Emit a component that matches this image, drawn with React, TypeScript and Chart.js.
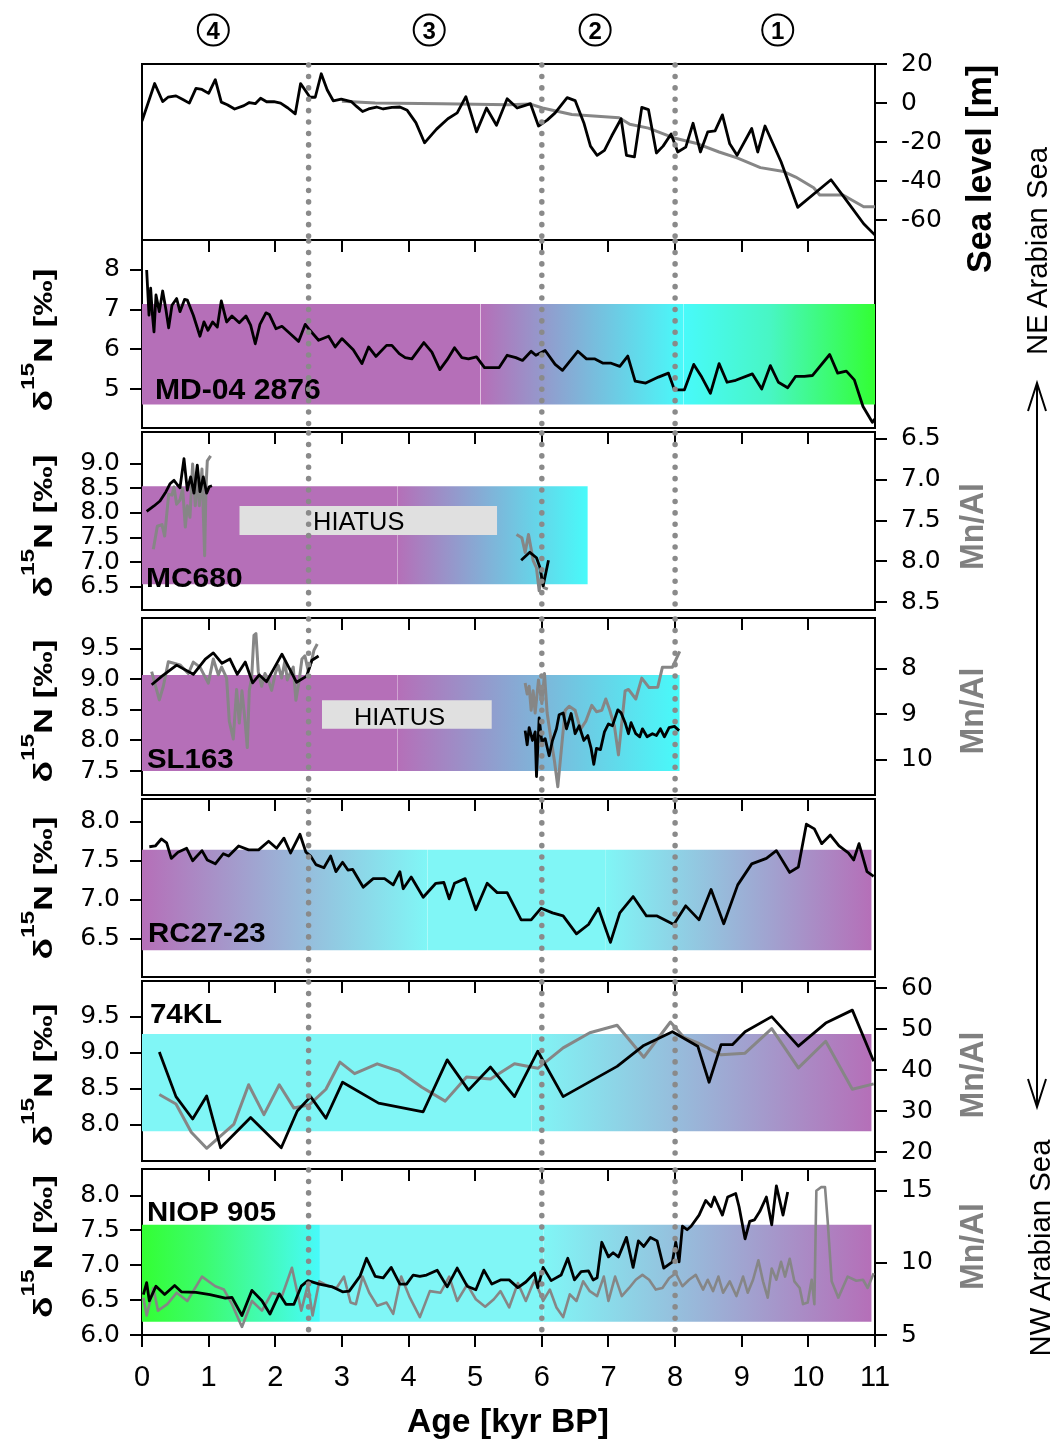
import React, { useEffect, useRef } from 'react';
import { Chart, registerables } from 'chart.js';

Chart.register(...registerables);

type Pt = [number, number | null];

// ================= DATA =================
const AGE_TICKS = [0, 1, 2, 3, 4, 5, 6, 7, 8, 9, 10, 11];
const STAGE_BOUNDARIES = [2.5, 6, 8];
const STAGE_LABELS = ['4', '3', '2', '1'];
const STAGE_CENTERS = [1.07, 4.31, 6.8, 9.54];

const SEA_LEVEL_TICKS = [20, 0, -20, -40, -60];
const SEA_LEVEL_BLACK: Pt[] = [
  [0, -9.2], [0.19, 10], [0.31, 0.8], [0.39, 3], [0.51, 3.7], [0.62, 1.7], [0.71, 0], [0.81, 7.5], [0.9, 7], [1.0, 5],
  [1.1, 12], [1.19, 0.5], [1.28, -0.8], [1.39, -3], [1.53, -1.3], [1.61, 0.3], [1.7, -0.3], [1.78, 2.5], [1.87, 0.7],
  [1.98, 0.8], [2.08, 0], [2.19, -2.5], [2.3, -5.5], [2.38, 10], [2.52, 3], [2.6, 3], [2.69, 15], [2.78, 6.7], [2.87, 1.2],
  [2.99, 2], [3.14, 0.8], [3.22, -1.7], [3.31, -4.3], [3.4, -3], [3.52, -2], [3.62, -3], [3.75, -2.2], [3.87, -2],
  [3.98, -3.7], [4.11, -10], [4.24, -20.3], [4.42, -13.3], [4.59, -8], [4.73, -5], [4.86, 3.3], [5.02, -14.7],
  [5.17, -2.5], [5.32, -11.3], [5.48, 2.2], [5.63, -2.5], [5.74, -1.3], [5.83, -0.3], [5.95, -11.7], [6.08, -8.7],
  [6.2, -5], [6.38, 2.8], [6.5, 1.3], [6.63, -10], [6.73, -22], [6.83, -26.7], [6.94, -24.2], [7.05, -16.7], [7.19, -8],
  [7.27, -26.7], [7.39, -27.5], [7.5, -2.2], [7.6, -3.3], [7.72, -25.5], [7.82, -22], [7.94, -15.8], [8.04, -25],
  [8.16, -22.5], [8.27, -10.3], [8.38, -25], [8.49, -14.7], [8.6, -14.2], [8.71, -6], [8.82, -20.8], [8.93, -26.7],
  [9.15, -13], [9.24, -25], [9.35, -11.7], [9.59, -30], [9.84, -53.3], [10.34, -39.2], [10.56, -49.2], [10.83, -61.7],
  [11.0, -67.5],
];
const SEA_LEVEL_GRAY: Pt[] = [
  [3.0, 1], [3.5, 0], [4.5, -0.3], [5.5, -0.8], [5.83, -0.5], [6.01, -2.5], [6.45, -5.8], [7.16, -7.5], [7.32, -10.8],
  [7.6, -12.8], [8.0, -18], [8.31, -20.5], [8.66, -25], [8.93, -28], [9.28, -33], [9.63, -35], [9.81, -37.8],
  [10.08, -43.3], [10.17, -47], [10.52, -47], [10.83, -53], [11, -53],
];

const MD04_TICKS = [5, 6, 7, 8];
const MD04_D15N: Pt[] = [
  [0.07, 8.0], [0.105, 6.86], [0.13, 7.54], [0.155, 6.9], [0.18, 6.44], [0.21, 7.37], [0.26, 6.95], [0.31, 7.47],
  [0.36, 6.99], [0.4, 6.54], [0.45, 7.11], [0.52, 7.28], [0.57, 6.95], [0.64, 7.26], [0.68, 7.24], [0.77, 6.86],
  [0.87, 6.33], [0.93, 6.69], [0.99, 6.48], [1.06, 6.69], [1.13, 6.56], [1.19, 7.22], [1.27, 6.69], [1.35, 6.84],
  [1.46, 6.67], [1.56, 6.84], [1.63, 6.61], [1.7, 6.14], [1.77, 6.63], [1.86, 6.92], [1.91, 6.88], [2.01, 6.52],
  [2.1, 6.58], [2.22, 6.4], [2.35, 6.2], [2.45, 6.63], [2.52, 6.48], [2.65, 6.23], [2.8, 6.33], [2.9, 6.06], [3.0, 6.27],
  [3.17, 5.99], [3.3, 5.64], [3.4, 6.06], [3.51, 5.82], [3.67, 6.1], [3.75, 6.1], [3.86, 5.89], [3.95, 5.79], [4.05, 5.76],
  [4.23, 6.17], [4.35, 5.93], [4.47, 5.49], [4.58, 5.74], [4.69, 6.04], [4.8, 5.79], [4.9, 5.76], [5.02, 5.81],
  [5.14, 5.54], [5.36, 5.54], [5.48, 5.85], [5.61, 5.79], [5.71, 5.72], [5.84, 5.95], [5.91, 5.85], [6.05, 5.97],
  [6.2, 5.62], [6.31, 5.47], [6.54, 5.95], [6.67, 5.76], [6.79, 5.76], [6.92, 5.65], [7.04, 5.65], [7.17, 5.57],
  [7.29, 5.83], [7.4, 5.2], [7.56, 5.15], [7.75, 5.3], [7.9, 5.4], [7.99, 4.98], [8.14, 4.98], [8.28, 5.62], [8.4, 5.3],
  [8.53, 4.89], [8.66, 5.64], [8.78, 5.17], [8.91, 5.22], [9.16, 5.38], [9.3, 5.0], [9.43, 5.59], [9.55, 5.17],
  [9.69, 5.03], [9.81, 5.32], [9.94, 5.32], [10.06, 5.34], [10.32, 5.87], [10.44, 5.4], [10.57, 5.45], [10.69, 5.23],
  [10.82, 4.56], [10.96, 4.16], [11.0, 4.25],
];

const MC680_TICKS = [6.5, 7, 7.5, 8, 8.5, 9];
const MC680_MNAL_TICKS = [6.5, 7, 7.5, 8, 8.5];
const MC680_D15N: Pt[] = [
  [0.07, 8.03], [0.18, 8.14], [0.27, 8.24], [0.36, 8.43], [0.42, 8.59], [0.48, 8.66], [0.53, 8.57], [0.57, 8.51],
  [0.63, 9.1], [0.68, 8.46], [0.73, 8.73], [0.78, 8.4], [0.83, 8.97], [0.87, 8.43], [0.92, 8.73], [0.97, 8.4],
  [1.01, 8.53], [1.05, 8.55], [3.5, null],
  [5.69, 7.04], [5.82, 7.2], [5.92, 7.09], [5.97, 6.9], [6.02, 6.52], [6.1, 7.04],
];
const MC680_MNAL: Pt[] = [
  [0.17, 7.85], [0.23, 7.57], [0.3, 7.55], [0.34, 7.69], [0.4, 7.18], [0.45, 7.19], [0.48, 7.09], [0.52, 7.3],
  [0.57, 7.25], [0.61, 7.11], [0.65, 7.58], [0.68, 7.32], [0.72, 7.46], [0.76, 6.81], [0.8, 7.32], [0.83, 6.9],
  [0.86, 7.32], [0.9, 6.87], [0.94, 7.93], [0.96, 7.11], [0.98, 6.77], [1.03, 6.71], [3.5, null],
  [5.62, 7.67], [5.7, 7.71], [5.75, 7.89], [5.8, 7.67], [5.84, 7.85], [5.87, 7.99], [5.92, 8.08], [5.96, 8.36],
  [6.0, 8.16], [6.03, 8.32], [6.09, 8.34],
];

const SL163_TICKS = [7.5, 8, 8.5, 9, 9.5];
const SL163_MNAL_TICKS = [8, 9, 10];
const SL163_D15N: Pt[] = [
  [0.145, 8.91], [0.3, 9.05], [0.52, 9.23], [0.77, 9.08], [0.95, 9.33], [1.07, 9.43], [1.2, 9.26], [1.32, 9.33],
  [1.43, 9.08], [1.55, 9.28], [1.66, 8.94], [1.76, 9.07], [1.87, 8.96], [2.1, 9.41], [2.32, 8.95], [2.47, 9.05],
  [2.55, 9.31], [2.65, 9.38], [4.0, null],
  [5.75, 8.16], [5.78, 7.93], [5.81, 8.21], [5.86, 8.0], [5.9, 8.14], [5.92, 7.41], [5.96, 8.37], [6.0, 7.98],
  [6.05, 8.03], [6.11, 7.75], [6.16, 8.0], [6.22, 8.19], [6.26, 8.42], [6.32, 8.45], [6.37, 8.19], [6.44, 8.44],
  [6.5, 8.11], [6.56, 8.24], [6.63, 8.0], [6.69, 8.08], [6.74, 7.87], [6.78, 7.61], [6.82, 7.87], [6.88, 7.85],
  [6.94, 8.14], [7.0, 8.27], [7.06, 8.24], [7.14, 8.5], [7.19, 8.45], [7.25, 8.29], [7.3, 8.11], [7.34, 8.29],
  [7.41, 8.11], [7.47, 8.06], [7.51, 8.19], [7.58, 8.06], [7.66, 8.11], [7.72, 8.08], [7.78, 8.19], [7.84, 8.06],
  [7.91, 8.21], [7.99, 8.23], [8.06, 8.16],
];
const SL163_MNAL: Pt[] = [
  [0.145, 8.06], [0.26, 8.68], [0.32, 8.38], [0.395, 7.84], [0.57, 7.91], [0.695, 8.1], [0.77, 7.85], [0.87, 7.96],
  [0.995, 8.31], [1.07, 7.78], [1.145, 8.13], [1.195, 7.96], [1.27, 8.2], [1.31, 9.15], [1.37, 9.54], [1.42, 8.45],
  [1.46, 9.19], [1.5, 8.48], [1.545, 9.12], [1.58, 9.73], [1.61, 8.48], [1.645, 8.2], [1.68, 7.26], [1.71, 7.22],
  [1.745, 8.06], [1.795, 8.38], [1.845, 8.1], [1.895, 8.24], [1.945, 8.47], [2.0, 8.1], [2.045, 7.92], [2.095, 8.2],
  [2.145, 7.82], [2.18, 8.24], [2.22, 8.1], [2.27, 7.96], [2.31, 8.69], [2.36, 8.24], [2.4, 7.78], [2.445, 7.71],
  [2.495, 8.05], [2.545, 7.82], [2.58, 7.59], [2.63, 7.45], [4.0, null],
  [5.75, 8.31], [5.78, 8.55], [5.81, 8.38], [5.84, 8.91], [5.87, 8.48], [5.9, 8.97], [5.95, 8.24], [6.0, 8.76],
  [6.04, 8.1], [6.08, 8.97], [6.14, 9.57], [6.19, 10.03], [6.24, 10.59], [6.29, 9.82], [6.35, 8.91], [6.41, 8.82],
  [6.5, 8.91], [6.58, 9.33], [6.66, 9.15], [6.75, 8.8], [6.82, 8.94], [6.9, 8.91], [6.96, 8.66], [7.02, 8.91],
  [7.09, 9.26], [7.15, 9.89], [7.25, 8.48], [7.3, 8.45], [7.41, 8.66], [7.5, 8.2], [7.61, 8.41], [7.74, 8.4],
  [7.81, 7.96], [7.96, 7.96], [8.07, 7.61],
];

const RC27_TICKS = [6.5, 7, 7.5, 8];
const RC27_D15N: Pt[] = [
  [0.11, 7.68], [0.2, 7.69], [0.29, 7.78], [0.37, 7.73], [0.44, 7.53], [0.54, 7.61], [0.67, 7.66], [0.76, 7.5],
  [0.9, 7.63], [0.98, 7.51], [1.1, 7.46], [1.22, 7.59], [1.3, 7.56], [1.45, 7.69], [1.6, 7.64], [1.75, 7.64],
  [1.9, 7.75], [2.02, 7.66], [2.13, 7.79], [2.23, 7.6], [2.37, 7.84], [2.46, 7.61], [2.53, 7.56], [2.61, 7.45],
  [2.73, 7.41], [2.83, 7.56], [2.91, 7.36], [3.01, 7.48], [3.09, 7.38], [3.16, 7.39], [3.32, 7.16], [3.47, 7.27],
  [3.64, 7.27], [3.77, 7.19], [3.87, 7.36], [3.92, 7.14], [4.04, 7.29], [4.22, 7.03], [4.41, 7.21], [4.53, 7.22],
  [4.61, 7.01], [4.69, 7.21], [4.85, 7.27], [5.01, 6.87], [5.18, 7.21], [5.33, 7.09], [5.48, 7.09], [5.69, 6.74],
  [5.84, 6.74], [5.99, 6.89], [6.16, 6.83], [6.32, 6.79], [6.52, 6.56], [6.7, 6.68], [6.85, 6.89], [7.03, 6.45],
  [7.17, 6.83], [7.37, 7.04], [7.57, 6.79], [7.73, 6.79], [7.98, 6.68], [8.16, 6.92], [8.36, 6.74], [8.54, 7.13],
  [8.73, 6.69], [8.94, 7.19], [9.15, 7.46], [9.37, 7.53], [9.52, 7.63], [9.72, 7.35], [9.85, 7.42], [9.97, 7.97],
  [10.09, 7.91], [10.2, 7.72], [10.33, 7.83], [10.46, 7.69], [10.6, 7.6], [10.68, 7.51], [10.76, 7.72], [10.88, 7.36],
  [10.98, 7.3],
];

const KL74_TICKS = [8, 8.5, 9, 9.5];
const KL74_MNAL_TICKS = [20, 30, 40, 50, 60];
const KL74_D15N: Pt[] = [
  [0.26, 9.01], [0.51, 8.39], [0.76, 8.08], [0.97, 8.4], [1.18, 7.68], [1.63, 8.1], [2.09, 7.68], [2.33, 8.19],
  [2.53, 8.39], [2.76, 8.09], [3.01, 8.59], [3.55, 8.3], [4.22, 8.18], [4.58, 8.9], [4.9, 8.48], [5.23, 8.8],
  [5.59, 8.39], [5.94, 9.02], [6.32, 8.39], [7.13, 8.81], [7.53, 9.1], [7.96, 9.29], [8.34, 9.09], [8.51, 8.59],
  [8.69, 9.11], [8.86, 9.11], [9.05, 9.29], [9.45, 9.5], [9.85, 9.09], [10.26, 9.41], [10.66, 9.59], [10.98, 8.88],
];
const KL74_MNAL: Pt[] = [
  [0.26, 34.1], [0.51, 31.8], [0.74, 24.9], [0.97, 21.0], [1.38, 26.9], [1.6, 36.5], [1.83, 29.2], [2.06, 36.5],
  [2.28, 30.8], [2.51, 31.6], [2.76, 35.4], [2.97, 42.0], [3.19, 39.2], [3.53, 41.6], [3.86, 39.8], [4.2, 35.9],
  [4.55, 32.5], [4.87, 38.4], [5.23, 37.9], [5.59, 41.6], [5.94, 40.5], [6.32, 45.5], [6.72, 49.2], [7.13, 51.0],
  [7.53, 43.2], [7.93, 51.8], [8.13, 48.1], [8.34, 46.7], [8.69, 43.8], [9.05, 44.2], [9.45, 50.2], [9.85, 40.6],
  [10.26, 47.1], [10.66, 35.4], [10.98, 36.7],
];

const NIOP_TICKS = [6, 6.5, 7, 7.5, 8];
const NIOP_MNAL_TICKS = [5, 10, 15];
const NIOP_D15N: Pt[] = [
  [0.02, 6.58], [0.07, 6.75], [0.11, 6.49], [0.21, 6.7], [0.34, 6.58], [0.49, 6.71], [0.59, 6.62], [0.81, 6.61],
  [1.02, 6.58], [1.25, 6.53], [1.35, 6.54], [1.5, 6.28], [1.65, 6.64], [1.8, 6.49], [1.92, 6.3], [2.06, 6.59],
  [2.16, 6.44], [2.28, 6.44], [2.39, 6.7], [2.49, 6.78], [2.66, 6.73], [2.86, 6.69], [3.01, 6.62], [3.11, 6.63],
  [3.27, 6.84], [3.37, 7.1], [3.5, 6.84], [3.62, 6.82], [3.74, 6.97], [3.87, 6.73], [3.97, 6.73], [4.07, 6.86],
  [4.17, 6.84], [4.27, 6.86], [4.43, 6.93], [4.58, 6.69], [4.73, 6.96], [4.88, 6.7], [5.01, 6.65], [5.13, 6.93],
  [5.25, 6.73], [5.38, 6.79], [5.51, 6.79], [5.64, 6.68], [5.76, 6.76], [5.89, 6.89], [5.94, 6.68], [6.02, 6.97],
  [6.14, 6.78], [6.29, 6.86], [6.39, 7.1], [6.49, 6.79], [6.59, 6.91], [6.7, 6.92], [6.77, 6.79], [6.83, 6.82],
  [6.9, 7.33], [7.0, 7.12], [7.07, 7.18], [7.15, 7.12], [7.27, 7.4], [7.37, 6.97], [7.45, 7.35], [7.53, 7.27],
  [7.63, 7.4], [7.73, 7.35], [7.83, 6.96], [7.96, 7.05], [8.01, 7.33], [8.06, 7.05], [8.11, 7.56], [8.18, 7.51],
  [8.24, 7.56], [8.36, 7.72], [8.46, 7.93], [8.54, 7.84], [8.59, 7.98], [8.71, 7.72], [8.79, 7.98], [8.91, 8.03],
  [8.96, 7.84], [9.05, 7.38], [9.12, 7.63], [9.19, 7.65], [9.27, 7.77], [9.37, 7.98], [9.45, 7.58], [9.52, 8.14],
  [9.62, 7.72], [9.69, 8.05],
];
const NIOP_MNAL: Pt[] = [
  [0.02, 7.59], [0.07, 6.35], [0.17, 8.26], [0.24, 6.69], [0.38, 7.14], [0.52, 7.93], [0.68, 7.36], [0.9, 9.05],
  [1.1, 8.38], [1.23, 8.15], [1.35, 7.14], [1.5, 5.56], [1.65, 7.36], [1.8, 6.69], [1.95, 7.93], [2.1, 7.7],
  [2.25, 9.66], [2.39, 6.69], [2.49, 8.49], [2.56, 6.35], [2.66, 8.72], [2.8, 8.38], [2.92, 8.26], [3.03, 9.05],
  [3.13, 7.25], [3.21, 7.14], [3.31, 9.05], [3.41, 7.93], [3.53, 7.03], [3.67, 7.25], [3.77, 6.47], [3.89, 9.05],
  [4.02, 7.59], [4.17, 6.24], [4.32, 8.04], [4.48, 7.93], [4.61, 9.05], [4.73, 7.36], [4.88, 8.49], [5.01, 7.48],
  [5.15, 6.96], [5.28, 7.48], [5.38, 8.04], [5.51, 6.91], [5.64, 8.6], [5.76, 7.36], [5.89, 8.83], [6.02, 7.36],
  [6.12, 8.15], [6.22, 6.91], [6.32, 6.24], [6.42, 7.82], [6.52, 7.36], [6.62, 8.72], [6.72, 8.04], [6.83, 7.7],
  [6.93, 9.05], [7.0, 7.36], [7.1, 9.05], [7.2, 7.7], [7.31, 8.26], [7.41, 8.83], [7.51, 9.17], [7.61, 8.83],
  [7.71, 8.15], [7.81, 8.26], [7.91, 8.94], [8.01, 9.28], [8.11, 8.38], [8.21, 8.83], [8.31, 9.17], [8.42, 8.15],
  [8.49, 8.83], [8.57, 8.04], [8.65, 9.05], [8.72, 7.93], [8.82, 8.72], [8.92, 7.7], [9.02, 9.05], [9.09, 7.93],
  [9.17, 8.83], [9.25, 10.18], [9.32, 8.72], [9.39, 7.59], [9.45, 9.61], [9.52, 8.83], [9.59, 10.07], [9.65, 9.05],
  [9.72, 10.29], [9.79, 8.72], [9.87, 8.26], [9.92, 7.14], [9.99, 7.25], [10.05, 8.83], [10.09, 7.14], [10.12, 15.0],
  [10.19, 15.25], [10.25, 15.25], [10.29, 12.9], [10.35, 8.72], [10.45, 7.59], [10.59, 9.05], [10.72, 8.76],
  [10.82, 8.83], [10.89, 8.26], [10.98, 9.28],
];

// ================= STYLE / LAYOUT =================
const PAGE_W = 1054;
const PAGE_H = 1439;
const AREA_L = 142;
const AREA_R = 875;
const X_MIN = 0;
const X_MAX = 11;
const FONT = '"Liberation Sans", Arial, Helvetica, sans-serif';
const TICK_FONT = '"DejaVu Sans", "Liberation Sans", sans-serif';
const BLACK = '#000000';
const GRAY = '#868686';
const LW_BLACK = 2.8;
const LW_GRAY = 3;

const MAG = 'rgb(181,111,184)';
const CYA = 'rgb(72,250,250)';
const CYL = 'rgb(128,246,246)';
const GRN = 'rgb(51,255,51)';
const MINT = 'rgb(72,246,196)';

const xPix = (v: number) => AREA_L + ((v - X_MIN) / (X_MAX - X_MIN)) * (AREA_R - AREA_L);

interface AxisSpec { min: number; max: number; ticks: number[]; dec: number; reverse?: boolean }
interface Seg { x0: number; x1: number; stops: [number, string][] }
interface Series { pts: Pt[]; axis: 'y' | 'y2'; color: string; width: number; order: number }
interface TextFit { text: string; left: number; baseline: number; inkW: number; size: number; bold: boolean }
interface RotTitle { kind: 'd15n' | 'plain'; text?: string; size: number; baseX: number; cy: number; len: number; color: string }
interface PanelCfg {
  top: number; bottom: number; padTop: number; padBottom: number; xAxisH: number;
  left: AxisSpec | null; right: AxisSpec | null;
  band?: { yTop: number; yBot: number; segs: Seg[] };
  hiatus?: { x0: number; x1: number; yTop: number; yBot: number };
  texts: TextFit[];
  series: Series[];
  titles: RotTitle[];
  topTicks: boolean; bottomLabels: boolean;
}

const solid = (c: string): [number, string][] => [[0, c], [1, c]];
const fade = (a: string, b: string): [number, string][] => [[0, a], [1, b]];

const PANELS: PanelCfg[] = [
  {
    top: 60, bottom: 240, padTop: 25, padBottom: 45, xAxisH: 0,
    left: null, right: { min: -70, max: 20, ticks: SEA_LEVEL_TICKS, dec: 0 },
    series: [
      { pts: SEA_LEVEL_GRAY, axis: 'y2', color: GRAY, width: LW_GRAY, order: 2 },
      { pts: SEA_LEVEL_BLACK, axis: 'y2', color: BLACK, width: LW_BLACK, order: 1 },
    ],
    texts: [],
    titles: [{ kind: 'plain', text: 'Sea level [m]', size: 35, baseX: 991, cy: 169, len: 208, color: '#000' }],
    topTicks: false, bottomLabels: false,
  },
  {
    top: 240, bottom: 428, padTop: 25, padBottom: 25, xAxisH: 0,
    left: { min: 4.017, max: 8.756, ticks: MD04_TICKS, dec: 0 }, right: null,
    band: {
      yTop: 7.14, yBot: 4.61,
      segs: [
        { x0: 0, x1: 5.08, stops: solid(MAG) },
        { x0: 5.08, x1: 8.13, stops: fade(MAG, CYA) },
        { x0: 8.13, x1: 11, stops: [[0, CYA], [0.45, MINT], [1, GRN]] },
      ],
    },
    series: [{ pts: MD04_D15N, axis: 'y', color: BLACK, width: LW_BLACK, order: 1 }],
    texts: [{ text: 'MD-04 2876', left: 157, baseline: 399, inkW: 163, size: 30, bold: true }],
    titles: [{ kind: 'd15n', size: 26, baseX: 52, cy: 340, len: 143, color: '#000' }],
    topTicks: true, bottomLabels: false,
  },
  {
    top: 428, bottom: 614, padTop: 25, padBottom: 25, xAxisH: 0,
    left: { min: 6.03, max: 9.64, ticks: MC680_TICKS, dec: 1 },
    right: { min: 6.418, max: 8.594, ticks: MC680_MNAL_TICKS, dec: 1, reverse: true },
    band: {
      yTop: 8.54, yBot: 6.55,
      segs: [
        { x0: 0, x1: 3.83, stops: solid(MAG) },
        { x0: 3.83, x1: 6.69, stops: fade(MAG, CYA) },
      ],
    },
    hiatus: { x0: 1.46, x1: 5.33, yTop: 8.14, yBot: 7.55 },
    series: [
      { pts: MC680_MNAL, axis: 'y2', color: GRAY, width: LW_GRAY, order: 2 },
      { pts: MC680_D15N, axis: 'y', color: BLACK, width: LW_BLACK, order: 1 },
    ],
    texts: [
      { text: 'MC680', left: 147, baseline: 586.5, inkW: 95, size: 28, bold: true },
      { text: 'HIATUS', left: 315, baseline: 530, inkW: 89, size: 26, bold: false },
    ],
    titles: [
      { kind: 'd15n', size: 26, baseX: 52, cy: 526, len: 143, color: '#000' },
      { kind: 'plain', text: 'Mn/Al', size: 34, baseX: 983, cy: 526.5, len: 87, color: '#808080' },
    ],
    topTicks: true, bottomLabels: false,
  },
  {
    top: 614, bottom: 799, padTop: 25, padBottom: 25, xAxisH: 0,
    left: { min: 7.109, max: 10.0, ticks: SL163_TICKS, dec: 1 },
    right: { min: 6.878, max: 10.773, ticks: SL163_MNAL_TICKS, dec: 0, reverse: true },
    band: {
      yTop: 9.07, yBot: 7.5,
      segs: [
        { x0: 0, x1: 3.83, stops: solid(MAG) },
        { x0: 3.83, x1: 8.07, stops: fade(MAG, CYA) },
      ],
    },
    hiatus: { x0: 2.7, x1: 5.25, yTop: 8.656, yBot: 8.19 },
    series: [
      { pts: SL163_MNAL, axis: 'y2', color: GRAY, width: LW_GRAY, order: 2 },
      { pts: SL163_D15N, axis: 'y', color: BLACK, width: LW_BLACK, order: 1 },
    ],
    texts: [
      { text: 'SL163', left: 147, baseline: 768, inkW: 86, size: 28, bold: true },
      { text: 'HIATUS', left: 355, baseline: 725, inkW: 89, size: 24, bold: false },
    ],
    titles: [
      { kind: 'd15n', size: 26, baseX: 52, cy: 711, len: 143, color: '#000' },
      { kind: 'plain', text: 'Mn/Al', size: 34, baseX: 983, cy: 711, len: 87, color: '#808080' },
    ],
    topTicks: true, bottomLabels: false,
  },
  {
    top: 799, bottom: 977, padTop: 25, padBottom: 25, xAxisH: 0,
    left: { min: 6.005, max: 8.294, ticks: RC27_TICKS, dec: 1 }, right: null,
    band: {
      yTop: 7.64, yBot: 6.35,
      segs: [
        { x0: 0, x1: 4.28, stops: fade(MAG, CYL) },
        { x0: 4.28, x1: 6.95, stops: solid(CYL) },
        { x0: 6.95, x1: 10.95, stops: fade(CYL, MAG) },
      ],
    },
    series: [{ pts: RC27_D15N, axis: 'y', color: BLACK, width: LW_BLACK, order: 1 }],
    texts: [{ text: 'RC27-23', left: 149, baseline: 941.5, inkW: 116, size: 28, bold: true }],
    titles: [{ kind: 'd15n', size: 26, baseX: 52, cy: 888, len: 143, color: '#000' }],
    topTicks: true, bottomLabels: false,
  },
  {
    top: 977, bottom: 1165, padTop: 25, padBottom: 25, xAxisH: 0,
    left: { min: 7.497, max: 9.994, ticks: KL74_TICKS, dec: 1 },
    right: { min: 17.89, max: 61.81, ticks: KL74_MNAL_TICKS, dec: 0 },
    band: {
      yTop: 9.26, yBot: 7.91,
      segs: [
        { x0: 0, x1: 5.84, stops: solid(CYL) },
        { x0: 5.84, x1: 10.95, stops: fade(CYL, MAG) },
      ],
    },
    series: [
      { pts: KL74_MNAL, axis: 'y2', color: GRAY, width: LW_GRAY, order: 2 },
      { pts: KL74_D15N, axis: 'y', color: BLACK, width: LW_BLACK, order: 1 },
    ],
    texts: [{ text: '74KL', left: 151, baseline: 1023, inkW: 71, size: 28, bold: true }],
    titles: [
      { kind: 'd15n', size: 26, baseX: 52, cy: 1075, len: 143, color: '#000' },
      { kind: 'plain', text: 'Mn/Al', size: 34, baseX: 983, cy: 1075, len: 87, color: '#808080' },
    ],
    topTicks: true, bottomLabels: false,
  },
  {
    top: 1165, bottom: 1335, padTop: 25, padBottom: 0, xAxisH: 70,
    left: { min: 6.0, max: 8.381, ticks: NIOP_TICKS, dec: 1 },
    right: { min: 5.0, max: 16.51, ticks: NIOP_MNAL_TICKS, dec: 0 },
    band: {
      yTop: 7.58, yBot: 6.19,
      segs: [
        { x0: 0, x1: 2.67, stops: [[0, GRN], [0.35, 'rgb(60,252,110)'], [1, CYA]] },
        { x0: 2.67, x1: 6.02, stops: solid(CYL) },
        { x0: 6.02, x1: 10.95, stops: fade(CYL, MAG) },
      ],
    },
    series: [
      { pts: NIOP_MNAL, axis: 'y2', color: GRAY, width: 2.6, order: 2 },
      { pts: NIOP_D15N, axis: 'y', color: BLACK, width: LW_BLACK, order: 1 },
    ],
    texts: [{ text: 'NIOP 905', left: 148, baseline: 1221, inkW: 128, size: 27, bold: true }],
    titles: [
      { kind: 'd15n', size: 26, baseX: 52, cy: 1246.5, len: 143, color: '#000' },
      { kind: 'plain', text: 'Mn/Al', size: 34, baseX: 983, cy: 1246.5, len: 87, color: '#808080' },
    ],
    topTicks: true, bottomLabels: true,
  },
];

// ================= HELPERS =================
function gradientFor(chart: any, seg: Seg) {
  const xs = chart.scales && chart.scales.x;
  if (!xs || !chart.chartArea) return seg.stops[0][1];
  const p0 = xs.getPixelForValue(seg.x0);
  const p1 = xs.getPixelForValue(seg.x1);
  const g = chart.ctx.createLinearGradient(p0, 0, p1, 0);
  seg.stops.forEach(([o, c]) => g.addColorStop(o, c));
  return g;
}

function drawFit(ctx: CanvasRenderingContext2D, t: TextFit, canvasTop: number) {
  ctx.save();
  ctx.font = `${t.bold ? 'bold ' : ''}${t.size}px ${FONT}`;
  ctx.fillStyle = '#000';
  ctx.textAlign = 'left';
  ctx.textBaseline = 'alphabetic';
  const m = ctx.measureText(t.text);
  const ink = m.actualBoundingBoxLeft + m.actualBoundingBoxRight;
  const s = ink > 0 ? t.inkW / ink : 1;
  ctx.translate(t.left, t.baseline - canvasTop);
  ctx.scale(s, 1);
  ctx.fillText(t.text, m.actualBoundingBoxLeft, 0);
  ctx.restore();
}

function drawRotTitle(ctx: CanvasRenderingContext2D, t: RotTitle, canvasTop: number) {
  const runs: { text: string; font: string; rise: number }[] =
    t.kind === 'd15n'
      ? [
          { text: 'δ', font: `bold ${t.size}px ${FONT}`, rise: 0 },
          { text: '15', font: `bold ${Math.round(t.size * 0.7)}px ${FONT}`, rise: t.size * 0.7 },
          { text: 'N [‰]', font: `bold ${t.size}px ${FONT}`, rise: 0 },
        ]
      : [{ text: t.text || '', font: `bold ${t.size}px ${FONT}`, rise: 0 }];
  ctx.save();
  ctx.fillStyle = t.color;
  ctx.textAlign = 'left';
  ctx.textBaseline = 'alphabetic';
  let total = 0;
  const ws = runs.map((r) => {
    ctx.font = r.font;
    const w = ctx.measureText(r.text).width;
    total += w;
    return w;
  });
  const s = t.len / total;
  ctx.translate(t.baseX, t.cy - canvasTop);
  ctx.rotate(-Math.PI / 2);
  ctx.scale(s, 1);
  let x = -total / 2;
  runs.forEach((r, i) => {
    ctx.font = r.font;
    ctx.fillText(r.text, x, -r.rise);
    x += ws[i];
  });
  ctx.restore();
}

function yScale(spec: AxisSpec | null, pos: 'left' | 'right', width: number) {
  return {
    type: 'linear',
    position: pos,
    min: spec ? spec.min : 0,
    max: spec ? spec.max : 1,
    reverse: spec ? !!spec.reverse : false,
    afterBuildTicks: (sc: any) => {
      sc.ticks = (spec ? spec.ticks : []).map((v) => ({ value: v }));
    },
    afterFit: (sc: any) => {
      sc.width = width;
    },
    ticks: {
      display: !!spec,
      autoSkip: false,
      padding: pos === 'left' ? 10 : 14,
      color: '#000',
      font: { family: TICK_FONT, size: 25 },
      callback: (v: any) => (spec ? Number(v).toFixed(spec.dec) : ''),
    },
    grid: { display: !!spec, drawOnChartArea: false, drawTicks: true, tickLength: 12, color: '#000', lineWidth: 2 },
    border: { display: true, color: '#000', width: 2 },
  };
}

function makeConfig(p: PanelCfg, canvasTop: number) {
  const datasets: any[] = [];
  p.series.forEach((s) => {
    datasets.push({
      type: 'line',
      data: s.pts.map(([x, y]) => ({ x, y })),
      xAxisID: 'x',
      yAxisID: s.axis,
      borderColor: s.color,
      borderWidth: s.width,
      borderJoinStyle: 'round',
      pointRadius: 0,
      fill: false,
      tension: 0,
      spanGaps: false,
      order: s.order,
    });
  });
  if (p.hiatus) {
    const h = p.hiatus;
    datasets.push({
      type: 'line',
      data: [{ x: h.x0, y: h.yTop }, { x: h.x1, y: h.yTop }],
      xAxisID: 'x',
      yAxisID: 'y',
      borderColor: 'rgba(0,0,0,0)',
      borderWidth: 0,
      pointRadius: 0,
      fill: { value: h.yBot },
      backgroundColor: '#e0e0e0',
      order: 5,
    });
  }
  if (p.band) {
    const b = p.band;
    b.segs.forEach((seg) => {
      datasets.push({
        type: 'line',
        data: [{ x: seg.x0, y: b.yTop }, { x: seg.x1, y: b.yTop }],
        xAxisID: 'x',
        yAxisID: 'y',
        borderColor: 'rgba(0,0,0,0)',
        borderWidth: 0,
        pointRadius: 0,
        fill: { value: b.yBot },
        backgroundColor: (c: any) => gradientFor(c.chart, seg),
        order: 20,
      });
    });
  }

  const deco = {
    id: 'deco',
    afterDatasetsDraw(chart: any) {
      const ctx: CanvasRenderingContext2D = chart.ctx;
      const ca = chart.chartArea;
      const xs = chart.scales.x;
      p.texts.forEach((t) => drawFit(ctx, t, canvasTop));
      if (p.topTicks) {
        ctx.save();
        ctx.strokeStyle = '#000';
        ctx.lineWidth = 2;
        AGE_TICKS.forEach((v) => {
          if (v <= X_MIN || v >= X_MAX) return;
          const px = Math.round(xs.getPixelForValue(v));
          ctx.beginPath();
          ctx.moveTo(px, ca.top);
          ctx.lineTo(px, ca.top + 12);
          ctx.stroke();
        });
        ctx.restore();
      }
      ctx.save();
      ctx.strokeStyle = '#8a8a8a';
      ctx.lineWidth = 5.5;
      ctx.lineCap = 'round';
      ctx.setLineDash([0.1, 11.3]);
      STAGE_BOUNDARIES.forEach((v) => {
        const px = xs.getPixelForValue(v);
        ctx.beginPath();
        ctx.moveTo(px, ca.top + 1);
        ctx.lineTo(px, ca.bottom);
        ctx.stroke();
      });
      ctx.restore();
    },
    afterDraw(chart: any) {
      const ctx: CanvasRenderingContext2D = chart.ctx;
      p.titles.forEach((t) => drawRotTitle(ctx, t, canvasTop));
    },
  };

  return {
    type: 'line',
    data: { datasets },
    options: {
      responsive: false,
      maintainAspectRatio: false,
      devicePixelRatio: 1,
      animation: false,
      events: [],
      layout: { padding: { top: p.padTop, bottom: p.padBottom, left: 0, right: 0 }, autoPadding: false },
      plugins: { legend: { display: false }, tooltip: { enabled: false }, title: { display: false } },
      scales: {
        x: {
          type: 'linear',
          position: 'bottom',
          min: X_MIN,
          max: X_MAX,
          afterBuildTicks: (sc: any) => {
            sc.ticks = AGE_TICKS.map((v) => ({ value: v }));
          },
          afterFit: (sc: any) => {
            sc.height = p.xAxisH;
          },
          ticks: {
            display: p.bottomLabels,
            autoSkip: false,
            maxRotation: 0,
            minRotation: 0,
            padding: 14,
            color: '#000',
            font: { family: FONT, size: 29 },
            callback: (v: any) => String(v),
          },
          grid: { display: p.bottomLabels, drawOnChartArea: false, tickLength: 12, color: '#000', lineWidth: 2 },
          border: { display: true, color: '#000', width: 2 },
        },
        x2: {
          type: 'linear',
          position: 'top',
          min: X_MIN,
          max: X_MAX,
          afterFit: (sc: any) => {
            sc.height = 0;
          },
          ticks: { display: false },
          grid: { display: false },
          border: { display: true, color: '#000', width: 2 },
        },
        y: yScale(p.left, 'left', AREA_L),
        y2: yScale(p.right, 'right', PAGE_W - AREA_R),
      },
    },
    plugins: [deco],
  };
}

function PanelCanvas({ cfg }: { cfg: PanelCfg }) {
  const ref = useRef<HTMLCanvasElement | null>(null);
  const canvasTop = cfg.top - cfg.padTop;
  const h = cfg.bottom + cfg.xAxisH + cfg.padBottom - canvasTop;
  useEffect(() => {
    if (!ref.current) return;
    const chart = new Chart(ref.current, makeConfig(cfg, canvasTop) as any);
    return () => chart.destroy();
  }, []);
  return (
    <canvas
      ref={ref}
      width={PAGE_W}
      height={h}
      style={{ position: 'absolute', left: 0, top: canvasTop, width: PAGE_W, height: h }}
    />
  );
}

export default function App() {
  return (
    <div
      style={{
        position: 'absolute',
        left: 0,
        top: 0,
        width: PAGE_W,
        height: PAGE_H,
        background: '#fff',
        overflow: 'hidden',
      }}
    >
      {PANELS.map((p, i) => (
        <PanelCanvas key={i} cfg={p} />
      ))}
      <svg
        width={PAGE_W}
        height={PAGE_H}
        style={{ position: 'absolute', left: 0, top: 0, pointerEvents: 'none' }}
      >
        {STAGE_LABELS.map((s, i) => {
          const cx = xPix(STAGE_CENTERS[i]);
          return (
            <g key={s}>
              <circle cx={cx} cy={30} r={15.5} fill="none" stroke="#000" strokeWidth={2} />
              <text
                x={cx}
                y={38.5}
                textAnchor="middle"
                fontFamily={FONT}
                fontWeight="bold"
                fontSize={24}
              >
                {s}
              </text>
            </g>
          );
        })}
        <line x1={1037} y1={384} x2={1037} y2={1106} stroke="#000" strokeWidth={2} />
        <polyline points="1028,411 1037,383 1046,411" fill="none" stroke="#000" strokeWidth={2} />
        <polyline points="1028,1079 1037,1107 1046,1079" fill="none" stroke="#000" strokeWidth={2} />
        <text
          transform="translate(1046.5,251) rotate(-90)"
          textAnchor="middle"
          fontFamily={FONT}
          fontSize={30}
          textLength={208}
          lengthAdjust="spacingAndGlyphs"
        >
          NE Arabian Sea
        </text>
        <text
          transform="translate(1050,1248) rotate(-90)"
          textAnchor="middle"
          fontFamily={FONT}
          fontSize={30}
          textLength={217}
          lengthAdjust="spacingAndGlyphs"
        >
          NW Arabian Sea
        </text>
        <text
          x={508}
          y={1432}
          textAnchor="middle"
          fontFamily={FONT}
          fontWeight="bold"
          fontSize={33}
          textLength={202}
          lengthAdjust="spacingAndGlyphs"
        >
          Age [kyr BP]
        </text>
      </svg>
    </div>
  );
}
